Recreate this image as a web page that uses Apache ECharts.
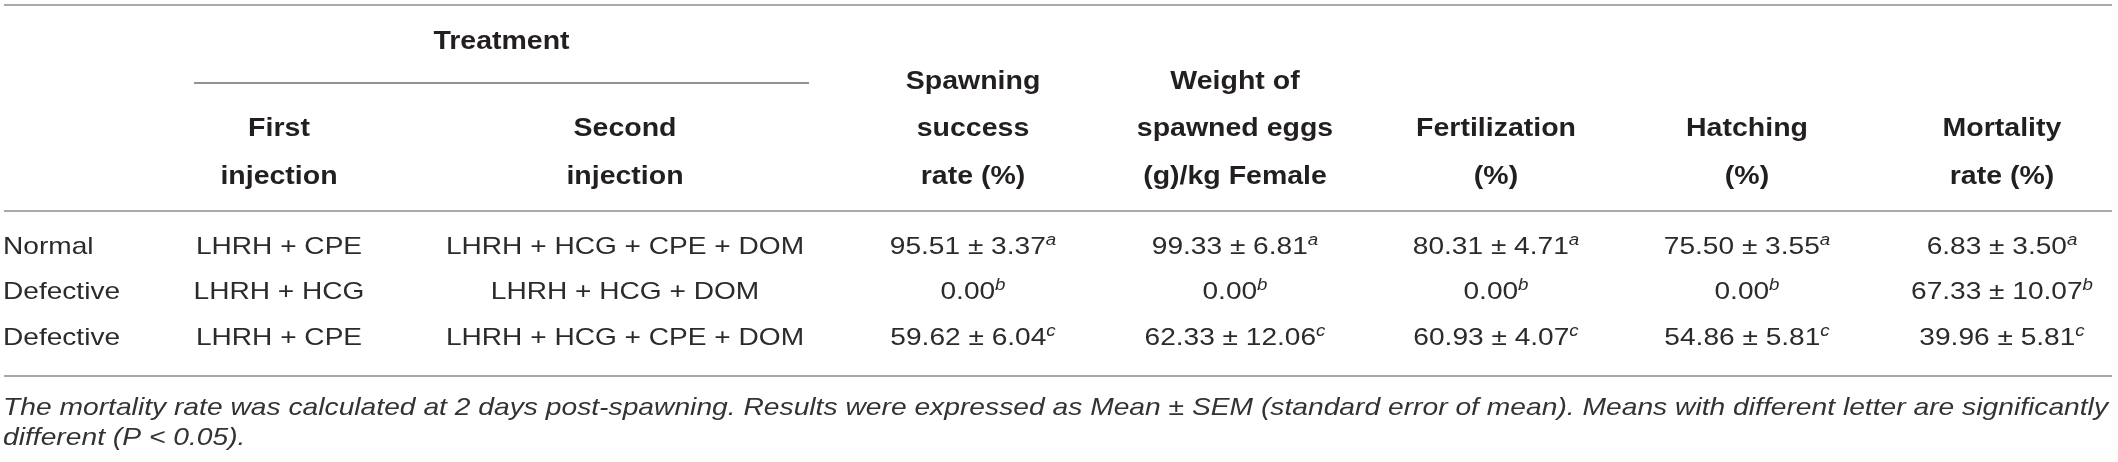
<!DOCTYPE html>
<html>
<head>
<meta charset="utf-8">
<script src="https://cdn.jsdelivr.net/npm/echarts@6/dist/echarts.min.js"></script>
<style>
html,body{margin:0;padding:0;background:#fff;}
#chart{width:2118px;height:462px;}
</style>
</head>
<body>
<div id="chart"></div>
<script>
// ---------------- DATA ----------------
const groupTitle = 'Treatment';
const headerFirst = ['First', 'injection'];
const headerSecond = ['Second', 'injection'];
const headerSpawning = ['Spawning', 'success', 'rate (%)'];
const headerWeight = ['Weight of', 'spawned eggs', '(g)/kg Female'];
const headerFert = ['Fertilization', '(%)'];
const headerHatch = ['Hatching', '(%)'];
const headerMort = ['Mortality', 'rate (%)'];

const groups = ['Normal', 'Defective', 'Defective'];
const firstInjection = ['LHRH + CPE', 'LHRH + HCG', 'LHRH + CPE'];
const secondInjection = ['LHRH + HCG + CPE + DOM', 'LHRH + HCG + DOM', 'LHRH + HCG + CPE + DOM'];
const letters = ['a', 'b', 'c'];

const spawningMean = [95.51, 0.00, 59.62];
const spawningSem = [3.37, null, 6.04];
const weightMean = [99.33, 0.00, 62.33];
const weightSem = [6.81, null, 12.06];
const fertMean = [80.31, 0.00, 60.93];
const fertSem = [4.71, null, 4.07];
const hatchMean = [75.50, 0.00, 54.86];
const hatchSem = [3.55, null, 5.81];
const mortMean = [6.83, 67.33, 39.96];
const mortSem = [3.50, 10.07, 5.81];

const footnoteLines = [
  'The mortality rate was calculated at 2 days post-spawning. Results were expressed as Mean \u00b1 SEM (standard error of mean). Means with different letter are significantly',
  'different (P < 0.05).'
];

// ---------------- LAYOUT (positions / styles only) ----------------
const W = 2118, H = 462;
const colX = [3, 279, 625, 973, 1235, 1496, 1747, 2002];
const headerLineY = [82, 129, 177];
const treatmentY = 42;
const treatmentRule = {x1: 194, x2: 809, y: 83};
const ruleYs = [5, 211, 376];
const ruleX = [4, 2112];
const bodyRowY = [247, 292, 338];
const footY = [408, 438];
const FONT = "'Liberation Sans', Arial, Helvetica, sans-serif";
const TXT = '#231f20';
const bodySize = 24, bodyScale = 1.17;
const headSize = 25, headScale = 1.14;
const supSize = 16;

// measure footnote to fit width
function measure(text, font) {
  const c = document.createElement('canvas').getContext('2d');
  c.font = font;
  return c.measureText(text).width;
}
const footSize = 24;
const footNatural = measure(footnoteLines[0], 'italic ' + footSize + 'px ' + FONT);
const footScale = (2108 - 3) / footNatural;

// ---------------- BUILD CELLS ----------------
const cells = [];
function addHeader(col, lines) {
  const start = headerLineY.length - lines.length;
  lines.forEach((t, k) => cells.push({x: colX[col], y: headerLineY[start + k], text: t, kind: 'head', align: 'center'}));
}
cells.push({x: (treatmentRule.x1 + treatmentRule.x2) / 2, y: treatmentY, text: groupTitle, kind: 'head', align: 'center'});
addHeader(1, headerFirst);
addHeader(2, headerSecond);
addHeader(3, headerSpawning);
addHeader(4, headerWeight);
addHeader(5, headerFert);
addHeader(6, headerHatch);
addHeader(7, headerMort);

function fmt(mean, sem, letter) {
  const m = mean.toFixed(2) + (sem != null ? ' \u00b1 ' + sem.toFixed(2) : '');
  return '{m|' + m + '}{s|' + letter + '}';
}
const valueCols = [
  [spawningMean, spawningSem],
  [weightMean, weightSem],
  [fertMean, fertSem],
  [hatchMean, hatchSem],
  [mortMean, mortSem]
];
groups.forEach((g, r) => {
  cells.push({x: colX[0], y: bodyRowY[r], text: g, kind: 'body', align: 'left'});
  cells.push({x: colX[1], y: bodyRowY[r], text: firstInjection[r], kind: 'body', align: 'center'});
  cells.push({x: colX[2], y: bodyRowY[r], text: secondInjection[r], kind: 'body', align: 'center'});
  valueCols.forEach((vc, j) => {
    cells.push({x: colX[3 + j], y: bodyRowY[r], text: fmt(vc[0][r], vc[1][r], letters[r]), kind: 'value', align: 'center'});
  });
});
footnoteLines.forEach((t, k) => cells.push({x: 3, y: footY[k], text: t, kind: 'foot', align: 'left'}));

const rules = [];
ruleYs.forEach(y => rules.push({x1: ruleX[0], x2: ruleX[1], y: y, color: '#8c8c8c'}));
rules.push({x1: treatmentRule.x1, x2: treatmentRule.x2, y: treatmentRule.y, color: '#6e6e6e'});

// ---------------- CHART ----------------
const chart = echarts.init(document.getElementById('chart'), null, {renderer: 'canvas'});
chart.setOption({
  animation: false,
  backgroundColor: '#fff',
  grid: {left: 0, right: 0, top: 0, bottom: 0},
  xAxis: {type: 'value', min: 0, max: W, show: false},
  yAxis: {type: 'value', min: 0, max: H, inverse: true, show: false},
  series: [
    {
      type: 'custom',
      clip: false,
      silent: true,
      data: rules.map((r, i) => [r.x1, r.y, r.x2, i]),
      renderItem: function (params, api) {
        const r = rules[api.value(3)];
        const p1 = api.coord([api.value(0), api.value(1)]);
        const p2 = api.coord([api.value(2), api.value(1)]);
        return {
          type: 'line',
          shape: {x1: p1[0], y1: p1[1], x2: p2[0], y2: p2[1]},
          style: {stroke: r.color, lineWidth: 1.6}
        };
      }
    },
    {
      type: 'custom',
      clip: false,
      silent: true,
      data: cells.map((c, i) => [c.x, c.y, i]),
      renderItem: function (params, api) {
        const c = cells[api.value(2)];
        const p = api.coord([api.value(0), api.value(1)]);
        let style, sx;
        if (c.kind === 'head') {
          sx = headScale;
          style = {text: c.text, fontFamily: FONT, fontSize: headSize, fontWeight: 'bold', fill: TXT};
        } else if (c.kind === 'foot') {
          sx = footScale;
          style = {text: c.text, fontFamily: FONT, fontSize: footSize, fontStyle: 'italic', fill: '#333'};
        } else if (c.kind === 'value') {
          sx = bodyScale;
          style = {
            text: c.text,
            fontFamily: FONT, fontSize: bodySize, fill: '#2b2b2b',
            rich: {
              m: {fontFamily: FONT, fontSize: bodySize, lineHeight: 28, fill: '#2b2b2b'},
              s: {fontFamily: FONT, fontSize: supSize, fontStyle: 'italic', lineHeight: 12, verticalAlign: 'top', fill: '#2b2b2b'}
            }
          };
        } else {
          sx = bodyScale;
          style = {text: c.text, fontFamily: FONT, fontSize: bodySize, fill: '#2b2b2b'};
        }
        style.x = 0; style.y = 0;
        style.align = c.align;
        style.verticalAlign = 'middle';
        return {type: 'text', x: p[0], y: p[1], scaleX: sx, scaleY: 1, style: style};
      }
    }
  ]
});
</script>
</body>
</html>
